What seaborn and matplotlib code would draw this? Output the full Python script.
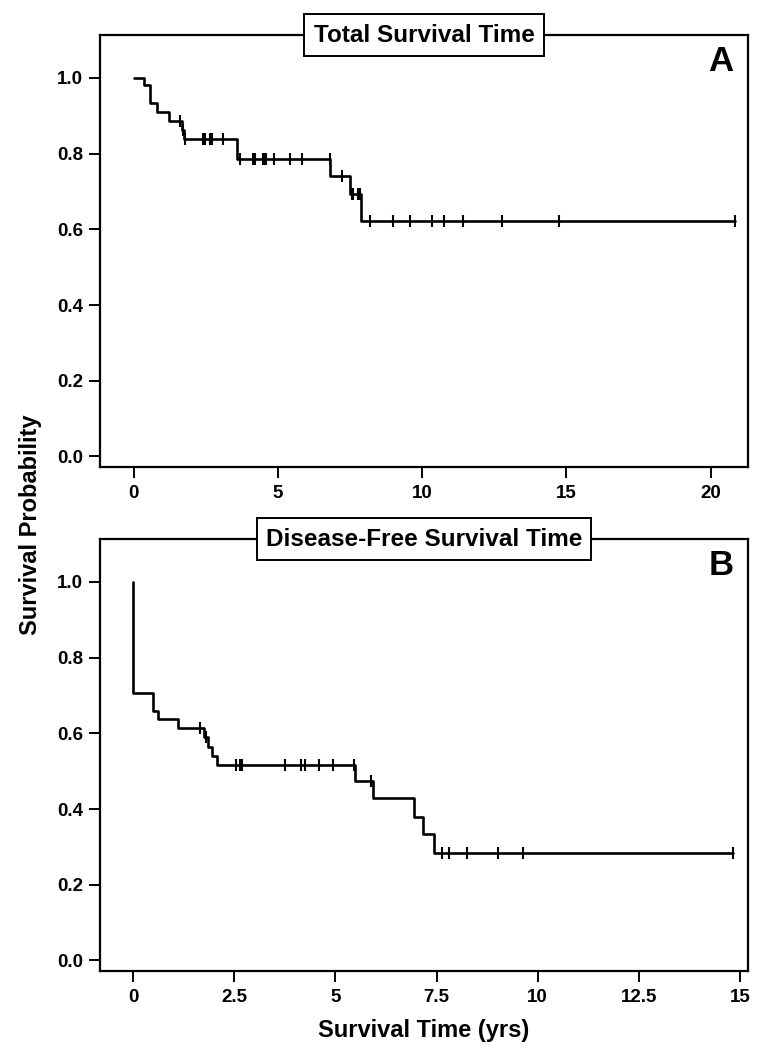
import matplotlib
import numpy as np
import seaborn as sns

matplotlib.use("Agg")
import matplotlib.pyplot as plt

# Panel A: total survival (Kaplan-Meier steps)
a_step_times = [0, 0.35, 0.56, 0.58, 0.81, 1.22, 1.66, 1.74, 3.58, 6.82, 7.51, 7.88, 20.85]
a_step_surv = [1.0, 0.981, 0.958, 0.934, 0.911, 0.887, 0.863, 0.839, 0.786, 0.740, 0.694, 0.623, 0.623]
a_censor_times = [1.59, 1.72, 1.76, 2.41, 2.47, 2.63, 2.66, 2.70, 3.09, 3.70, 4.13, 4.20,
                  4.47, 4.54, 4.60, 4.86, 5.41, 5.84, 6.80, 7.22, 7.57, 7.60, 7.77, 7.86,
                  8.18, 8.99, 9.59, 10.34, 10.77, 11.42, 12.77, 14.73, 20.85]
a_xticks = [0, 5, 10, 15, 20]
a_xtick_labels = ["0", "5", "10", "15", "20"]

# Panel B: disease-free survival
b_step_times = [0, 0, 0.50, 0.62, 1.10, 1.75, 1.85, 1.95, 2.07, 5.48, 5.92, 6.94, 7.16, 7.44, 14.84]
b_step_surv = [1.0, 0.706, 0.660, 0.637, 0.614, 0.589, 0.565, 0.541, 0.516, 0.475, 0.428,
               0.380, 0.335, 0.285, 0.285]
b_censor_times = [1.65, 1.80, 2.55, 2.65, 2.70, 3.75, 4.15, 4.25, 4.60, 4.95, 5.46, 5.87,
                  7.63, 7.82, 8.26, 9.03, 9.63, 14.84]
b_xticks = [0, 2.5, 5, 7.5, 10, 12.5, 15]
b_xtick_labels = ["0", "2.5", "5", "7.5", "10", "12.5", "15"]

y_ticks = [0.0, 0.2, 0.4, 0.6, 0.8, 1.0]
y_tick_labels = ["0.0", "0.2", "0.4", "0.6", "0.8", "1.0"]

sns.set_theme(style="white")
plt.rcParams.update(
    {
        "font.family": ["Liberation Sans", "DejaVu Sans"],
        "font.weight": "bold",
        "text.color": "black",
        "axes.labelcolor": "black",
        "axes.linewidth": 1.6,
        "axes.edgecolor": "black",
        "xtick.bottom": True,
        "ytick.left": True,
        "xtick.major.size": 8,
        "ytick.major.size": 8,
        "xtick.major.width": 1.4,
        "ytick.major.width": 1.4,
        "xtick.color": "black",
        "ytick.color": "black",
        "xtick.labelcolor": "black",
        "ytick.labelcolor": "black",
        "xtick.labelsize": 13.5,
        "ytick.labelsize": 13.5,
        "xtick.major.pad": 5,
        "ytick.major.pad": 4,
    }
)


def surv_at(times, surv, t):
    idx = np.searchsorted(np.asarray(times), t, side="right") - 1
    return np.asarray(surv)[idx]


def draw_panel(ax, times, surv, censors, title, letter, xticks, xlabels, xlim):
    sns.lineplot(x=times, y=surv, ax=ax, estimator=None, sort=False,
                 drawstyle="steps-post", color="black", linewidth=1.9)
    cy = [surv_at(times, surv, t) for t in censors]
    sns.scatterplot(x=censors, y=cy, ax=ax, marker="|", s=75, color="black",
                    linewidth=1.5, zorder=3)
    ax.set_xlim(*xlim)
    ax.set_ylim(-0.028, 1.113)
    ax.set_xticks(xticks)
    ax.set_xticklabels(xlabels, fontweight="bold")
    ax.set_yticks(y_ticks)
    ax.set_yticklabels(y_tick_labels, fontweight="bold")
    ax.set_xlabel("")
    ax.set_ylabel("")
    for side in ["top", "right", "left", "bottom"]:
        ax.spines[side].set_visible(True)
    ax.text(0.5, 1.0, title, transform=ax.transAxes, ha="center", va="center",
            fontsize=17.5, fontweight="bold", zorder=5,
            bbox=dict(boxstyle="square,pad=0.38", fc="white", ec="black", lw=1.4))
    ax.text(0.978, 0.977, letter, transform=ax.transAxes, ha="right", va="top",
            fontsize=25, fontweight="bold")


fig = plt.figure(figsize=(7.6, 10.5), dpi=100)
ax_a = fig.add_axes([0.1316, 0.5552, 0.8526, 0.4114])
ax_b = fig.add_axes([0.1316, 0.0752, 0.8526, 0.4114])

draw_panel(ax_a, a_step_times, a_step_surv, a_censor_times, "Total Survival Time", "A",
           a_xticks, a_xtick_labels, (-1.17, 21.3))
draw_panel(ax_b, b_step_times, b_step_surv, b_censor_times, "Disease-Free Survival Time", "B",
           b_xticks, b_xtick_labels, (-0.82, 15.2))

fig.text(0.04, 0.5, "Survival Probability", rotation=90, ha="center", va="center",
         fontsize=17, fontweight="bold")
fig.text(0.558, 0.019, "Survival Time (yrs)", ha="center", va="center",
         fontsize=17, fontweight="bold")

fig.savefig("out.png", dpi=100, facecolor="white")
